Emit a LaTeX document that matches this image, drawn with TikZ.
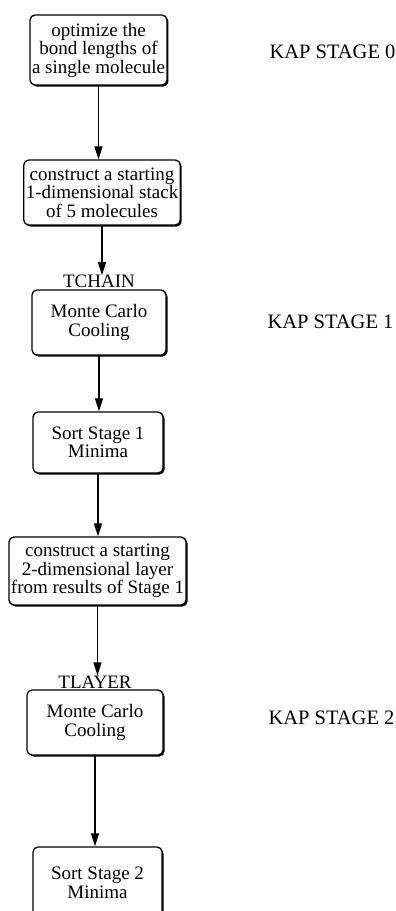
\documentclass[tikz,border=0pt]{standalone}
\usepackage{fontspec}
\setmainfont{Liberation Serif}
\usetikzlibrary{arrows.meta,shadows}

\begin{document}
\begin{tikzpicture}[x=1pt, y=-1pt,
  every node/.style={font=\fontsize{19}{18.5}\selectfont},
  box/.style={draw, line width=1.3pt, rounded corners=5pt, fill=white, align=center, inner sep=2pt,
    drop shadow={shadow xshift=1.5pt, shadow yshift=-1.5pt, opacity=1, fill=black}},
  flow/.style={line width=1.2pt, -{Triangle[length=13pt,width=8pt]}},
  tag/.style={inner sep=0pt, anchor=south, yshift=1pt},
  stage/.style={font=\fontsize{20.5}{21}\selectfont, anchor=west}]
  \useasboundingbox (0,0) rectangle (396,911);
  \clip (0,0) rectangle (396,911);
  % stage 0
  \node[box, minimum width=135pt, minimum height=70pt] (opt) at (98.5,50) {optimize the\\bond lengths of\\a single molecule};
  \node[box, minimum width=156pt, minimum height=65pt] (stack) at (102,192.5) {construct a starting\\1-dimensional stack\\of 5 molecules};
  \node[stage] (kap0) at (266,52) {KAP STAGE 0};
  % stage 1
  \node[box, minimum width=134pt, minimum height=65pt] (mc1) at (99,322.5) {Monte Carlo\\Cooling};
  \node[tag] (tchain) at (mc1.north) {TCHAIN};
  \node[box, minimum width=130pt, minimum height=61pt] (sort1) at (98,442.5) {Sort Stage 1\\Minima};
  \node[stage] (kap1) at (264,322) {KAP STAGE 1};
  % stage 2
  \node[box, minimum width=177pt, minimum height=68pt] (layer) at (97.5,571) {construct a starting\\2-dimensional layer\\from results of Stage 1};
  \node[box, minimum width=136pt, minimum height=65pt] (mc2) at (95,722.5) {Monte Carlo\\Cooling};
  \node[tag] (tlayer) at (mc2.north) {TLAYER};
  \node[box, minimum width=129pt, minimum height=72pt] (sort2) at (97.5,883) {Sort Stage 2\\Minima};
  \node[stage] (kap2) at (265,718) {KAP STAGE 2};

  \draw[flow] (opt.south) -- (opt.south |- stack.north);
  \draw[flow] (stack.south) -- (stack.south |- tchain.north);
  \draw[flow] (mc1.south) -- (mc1.south |- sort1.north);
  \draw[flow] (sort1.south) -- (sort1.south |- layer.north);
  \draw[flow] (layer.south) -- (layer.south |- tlayer.north);
  \draw[flow] (mc2.south) -- (mc2.south |- sort2.north);
\end{tikzpicture}
\end{document}
